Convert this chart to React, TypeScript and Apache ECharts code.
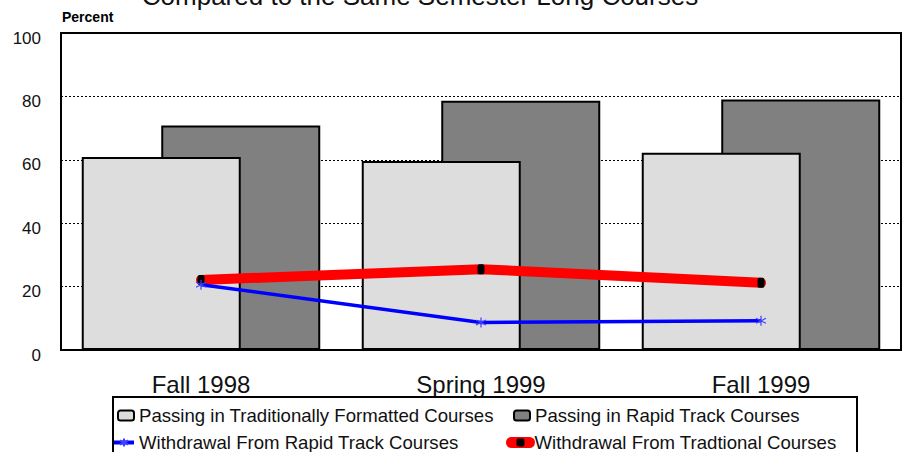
import React, { useEffect, useRef } from "react";
import * as echarts from "echarts";

const categories = ["Fall 1998", "Spring 1999", "Fall 1999"];
const passingTraditional = [60.9, 59.6, 62.2];
const passingRapid = [70.8, 78.6, 79.0];
const withdrawalRapid = [20.6, 8.7, 9.2];
const withdrawalTraditional = [22.1, 25.5, 21.2];
const yTicks = { min: 0, max: 100, interval: 20 };

const NAME_TRAD = "Passing in Traditionally Formatted Courses";
const NAME_RAPID = "Passing in Rapid Track Courses";
const NAME_WRAPID = "Withdrawal From Rapid Track Courses";
const NAME_WTRAD = "Withdrawal From Tradtional Courses";

const FONT = "Liberation Sans, Arial, sans-serif";
const STAR = "path://M5,0L5,10M0.7,2.5L9.3,7.5M0.7,7.5L9.3,2.5";

export default function App() {
  const ref = useRef<HTMLDivElement>(null);
  useEffect(() => {
    if (!ref.current) return;
    const chart = echarts.init(ref.current, null, { renderer: "svg" });
    const legendText = { fontSize: 18.6, color: "#111", fontFamily: FONT };
    const mkLegend = (item: any, left: number, top: number, w: number, h: number) => ({
      data: [item],
      left,
      top,
      padding: 0,
      itemGap: 0,
      itemWidth: w,
      itemHeight: h,
      selectedMode: false,
      textStyle: legendText,
    });
    chart.setOption({
      animation: false,
      backgroundColor: "#fff",
      textStyle: { fontFamily: FONT },
      grid: {
        left: 61,
        right: 2,
        top: 33,
        bottom: 102,
        show: true,
        borderColor: "#000",
        borderWidth: 2,
        backgroundColor: "transparent",
      },
      graphic: [
        {
          type: "text",
          x: 420,
          y: -4,
          style: {
            text: "Compared to the Same Semester Long Courses",
            fontSize: 26,
            fontFamily: FONT,
            fill: "#111",
            align: "center",
            verticalAlign: "middle",
          },
        },
        {
          type: "text",
          x: 62,
          y: 17,
          style: {
            text: "Percent",
            fontSize: 14,
            fontWeight: "bold",
            fontFamily: FONT,
            fill: "#000",
            align: "left",
            verticalAlign: "middle",
          },
        },
        {
          type: "rect",
          shape: { x: 113, y: 397, width: 744, height: 70 },
          style: { fill: "none", stroke: "#000", lineWidth: 2 },
          z: 10,
        },
      ],
      legend: [
        mkLegend({ name: NAME_TRAD }, 117, 406, 16, 10),
        mkLegend({ name: NAME_RAPID }, 513, 406, 16, 10),
        mkLegend(
          { name: NAME_WRAPID, lineStyle: { width: 4, color: "#0000ff" } },
          112,
          433,
          20,
          10
        ),
        mkLegend(
          {
            name: NAME_WTRAD,
            lineStyle: { width: 11, color: "#ff0000", cap: "round" },
          },
          506,
          433,
          18,
          10
        ),
      ],
      xAxis: {
        type: "category",
        data: categories,
        axisTick: { show: false },
        axisLine: { show: true, lineStyle: { color: "#000", width: 2 } },
        axisLabel: { fontSize: 24, color: "#111", margin: 22, fontFamily: FONT },
        splitLine: { show: false },
      },
      yAxis: {
        type: "value",
        min: yTicks.min,
        max: yTicks.max,
        interval: yTicks.interval,
        axisTick: { show: false },
        axisLine: { show: true, lineStyle: { color: "#000", width: 2 } },
        axisLabel: {
          fontSize: 17,
          color: "#111",
          margin: 20,
          fontFamily: FONT,
          verticalAlign: "top",
          lineHeight: 10,
        },
        splitLine: { show: true, lineStyle: { color: "#000", type: [2, 2], width: 1 } },
      },
      series: [
        {
          name: NAME_TRAD,
          type: "bar",
          data: passingTraditional,
          barWidth: 159,
          barGap: "-50%",
          z: 3,
          itemStyle: { color: "#dddddd", borderColor: "#000", borderWidth: 2 },
        },
        {
          name: NAME_RAPID,
          type: "bar",
          data: passingRapid,
          barWidth: 159,
          barGap: "-50%",
          z: 2,
          itemStyle: { color: "#808080", borderColor: "#000", borderWidth: 2 },
        },
        {
          name: NAME_WTRAD,
          type: "line",
          data: withdrawalTraditional,
          z: 5,
          symbol: "roundRect",
          symbolSize: [7, 10],
          itemStyle: { color: "#000" },
          lineStyle: { color: "#ff0000", width: 10, cap: "round", join: "round" },
        },
        {
          name: NAME_WRAPID,
          type: "line",
          data: withdrawalRapid,
          z: 6,
          symbol: STAR,
          symbolSize: 10,
          itemStyle: { color: "#0000ff", borderColor: "#4040ff", borderWidth: 1.2 },
          lineStyle: { color: "#0000ff", width: 3.5 },
        },
      ],
    });
    return () => chart.dispose();
  }, []);
  return (
    <div
      ref={ref}
      style={{ position: "absolute", left: 0, top: 0, width: 903, height: 452 }}
    />
  );
}
